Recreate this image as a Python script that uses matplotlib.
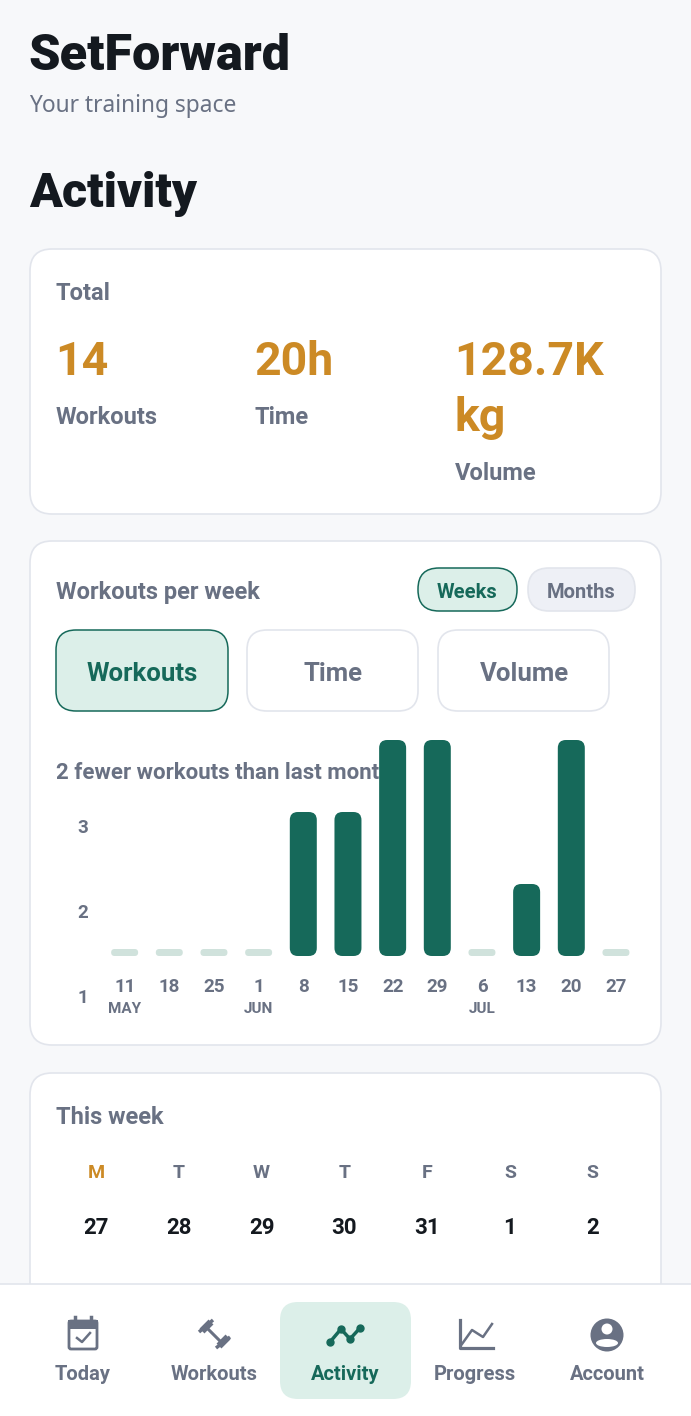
import matplotlib
matplotlib.use('Agg')
import matplotlib.pyplot as plt
from matplotlib.patches import FancyBboxPatch, Circle, Ellipse, Rectangle

plt.rcParams['font.family'] = ['Roboto', 'DejaVu Sans']

# Colors
bg = '#f7f8fa'
white = '#ffffff'
border = '#e2e5ec'
dark = '#14191f'
gray = '#697183'
green = '#16695a'
pale_green = '#dcefe9'
stub_green = '#d0e2dc'
gold = '#cc8a25'
pill_gray = '#eef0f6'

# Chart data
week_days = ['11', '18', '25', '1', '8', '15', '22', '29', '6', '13', '20', '27']
month_labels = {0: 'MAY', 3: 'JUN', 8: 'JUL'}
workouts = [0, 0, 0, 0, 2, 2, 3, 3, 0, 1, 3, 0]
axis_labels = ['3', '2', '1']

# Page content
totals = [('14', 'Workouts'), ('20h', 'Time'), ('128.7K\nkg', 'Volume')]
calendar_letters = ['M', 'T', 'W', 'T', 'F', 'S', 'S']
calendar_days = ['27', '28', '29', '30', '31', '1', '2']
nav_items = ['Today', 'Workouts', 'Activity', 'Progress', 'Account']

W, H = 691, 1416
fig = plt.figure(figsize=(W / 100, H / 100), dpi=100, facecolor=bg)

# Page layer in pixel coordinates
ax = fig.add_axes([0, 0, 1, 1])
ax.set_xlim(0, W)
ax.set_ylim(H, 0)
ax.axis('off')


def box(x0, y0, x1, y1, r, fc, ec=border, lw=1.2, z=1):
    ax.add_patch(FancyBboxPatch((x0, y0), x1 - x0, y1 - y0,
                                boxstyle=f'round,pad=0,rounding_size={r}',
                                fc=fc, ec=ec, lw=lw, zorder=z))


def label(x, y, s, size, color=gray, weight='medium', ha='left', z=5, family=None):
    ax.text(x, y, s, fontsize=size, color=color, weight=weight,
            ha=ha, va='center', zorder=z, family=family)


# Header
label(28, 57, 'SetForward', 36.3, dark, 'heavy')
label(29, 106, 'Your training space', 16.4, gray, 'normal', family=['Noto Sans', 'DejaVu Sans'])
label(29, 194, 'Activity', 34.8, dark, 'heavy')

# Total card
box(30, 249, 661, 514, 22, white)
label(56, 294, 'Total', 17, weight='semibold')
label(55, 362, totals[0][0], 33.5, gold, 'bold')
label(56, 418, totals[0][1], 17, weight='semibold')
label(254, 362, totals[1][0], 33.5, gold, 'bold')
label(255, 418, totals[1][1], 17, weight='semibold')
label(454, 362, '128.7K', 33.5, gold, 'bold')
label(455, 418, 'kg', 33.5, gold, 'bold')
label(455, 473, totals[2][1], 17, weight='semibold')

# Chart card
box(30, 541, 661, 1045, 22, white)
label(56, 592, 'Workouts per week', 17, weight='semibold')
box(418, 568, 517, 611, 21, pale_green, green, 1.1)
label(467, 592, 'Weeks', 14.5, green, 'bold', 'center')
box(528, 568, 635, 611, 21, pill_gray)
label(581, 592, 'Months', 14.5, gray, 'bold', 'center')

box(56, 630, 228, 711, 20, pale_green, green, 1.1)
label(142, 674, 'Workouts', 18.5, green, 'bold', 'center')
box(247, 630, 418, 711, 20, white)
label(333, 674, 'Time', 18.5, gray, 'bold', 'center')
box(438, 630, 609, 711, 20, white)
label(524, 674, 'Volume', 18.5, gray, 'bold', 'center')
label(56, 773, '2 fewer workouts than last month', 16, gray, 'bold')

# This week card
box(30, 1073, 661, 1330, 22, white)
label(56, 1118, 'This week', 17, weight='semibold')
for i, (letter, day) in enumerate(zip(calendar_letters, calendar_days)):
    x = 96 + i * 82.8
    label(x, 1173, letter, 14, gold if i == 0 else gray, 'bold', 'center')
    label(x, 1228, day, 16, dark, 'bold', 'center')

# Bottom nav
ax.add_patch(Rectangle((0, 1284), W, H - 1284, fc=white, ec='none', zorder=6))
ax.plot([0, W], [1283.5, 1283.5], color=border, lw=1.2, zorder=7)
box(280, 1302, 411, 1399, 18, pale_green, 'none', 0, 7)
nav_x = [83, 214, 345, 475, 607]
for i, (x, name) in enumerate(zip(nav_x, nav_items)):
    label(x, 1375, name, 14.5, green if i == 2 else gray, 'bold', 'center', 9)

# Calendar icon
box(69, 1321, 97, 1349, 2, white, gray, 2, 8)
ax.add_patch(Rectangle((68, 1320), 30, 9, fc=gray, ec='none', zorder=8))
ax.plot([75, 75], [1317, 1322], color=gray, lw=2.5, zorder=8)
ax.plot([91, 91], [1317, 1322], color=gray, lw=2.5, zorder=8)
ax.plot([77, 82, 90], [1338, 1342, 1333], color=gray, lw=1.8, zorder=9)

# Barbell icon
ax.plot([207, 222], [1328, 1343], color=gray, lw=2.2, solid_capstyle='butt', zorder=8)
ax.plot([202, 211], [1331, 1322], color=gray, lw=5, solid_capstyle='butt', zorder=8)
ax.plot([199, 213], [1332, 1320], color=gray, lw=2.5, solid_capstyle='butt', zorder=8)
ax.plot([219, 228], [1346, 1337], color=gray, lw=5, solid_capstyle='butt', zorder=8)
ax.plot([216, 230], [1348, 1337], color=gray, lw=2.5, solid_capstyle='butt', zorder=8)

# Activity icon
line_x = [330, 341, 350, 360]
line_y = [1342, 1329, 1339, 1328]
ax.plot(line_x, line_y, color=green, lw=2.5, marker='o', ms=5, zorder=8)

# Progress icon
ax.plot([460, 460, 493], [1320, 1348, 1348], color=gray, lw=2.3, zorder=8)
ax.plot([462, 472, 483, 492], [1344, 1330, 1337, 1324], color=gray, lw=1.8, zorder=8)

# Account icon
ax.add_patch(Circle((607, 1335), 16.5, fc=gray, ec='none', zorder=8))
ax.add_patch(Circle((607, 1329), 5.5, fc=white, ec='none', zorder=9))
ax.add_patch(Ellipse((607, 1343), 22, 8, fc=white, ec='none', zorder=9))

# Bars, one unit is 72 px high and 44.6 px wide
plot_x0, plot_x1 = 102.3, 638.3
plot_top, plot_bottom = 740, 956
chart = fig.add_axes([plot_x0 / W, 1 - plot_bottom / H,
                      (plot_x1 - plot_x0) / W, (plot_bottom - plot_top) / H])
chart.patch.set_alpha(0)
chart.set_xlim(-0.5, 11.5)
chart.set_ylim(0, 3)
unit_x = (plot_x1 - plot_x0) / 12
unit_y = (plot_bottom - plot_top) / 3
bar_w = 27 / unit_x
stub_h = 7 / unit_y

for i, v in enumerate(workouts):
    h = v if v > 0 else stub_h
    r = 8 if v > 0 else 3.5
    chart.add_patch(FancyBboxPatch((i - bar_w / 2, 0), bar_w, h,
                                   boxstyle=f'round,pad=0,rounding_size={r / unit_x}',
                                   mutation_aspect=unit_x / unit_y,
                                   fc=green if v > 0 else stub_green, ec='none',
                                   clip_on=False))

for s in chart.spines.values():
    s.set_visible(False)
chart.set_xticks(range(len(week_days)), week_days)
chart.tick_params(axis='x', length=0, pad=15.5, labelsize=13.5, labelcolor=gray)
for t in chart.get_xticklabels():
    t.set_fontweight('bold')

# Axis labels do not line up with the bars in the app
chart.set_yticks([])
for s, y in zip(axis_labels, [828, 913, 998]):
    label(83, y, s, 13.5, gray, 'bold', 'center')

for i, name in month_labels.items():
    chart.annotate(name, xy=(i, 0), xycoords='data', xytext=(0, -53),
                   textcoords='offset pixels', ha='center', va='center',
                   fontsize=11, color=gray, weight='bold', annotation_clip=False)

fig.savefig('out.png', dpi=100, facecolor=bg)
plt.close()
